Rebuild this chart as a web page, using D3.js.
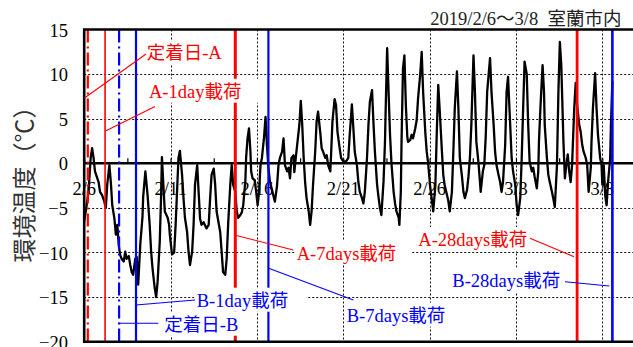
<!DOCTYPE html>
<html>
<head>
<meta charset="utf-8">
<script src="https://cdn.jsdelivr.net/npm/d3@7"></script>
<style>
  html, body { margin: 0; padding: 0; background: #fff; }
  svg { display: block; }
</style>
</head>
<body>
<svg id="chart" width="633" height="347"></svg>
<script>
// Hourly ambient temperature, Muroran, 2019/2/6 - 3/8
// hours: elapsed hours since 2019-02-06 00:00, temps: °C
const hours = [
  0, 2, 6, 9, 11, 13, 15, 20, 22, 25, 28, 30, 32, 35, 37, 39, 42, 44, 46, 48,
  50, 52, 55, 57, 59, 62, 64, 66, 68, 71, 73, 75, 78, 81, 82, 85, 88, 91, 93, 95,
  98, 100, 102, 105, 107, 108, 110, 112, 116, 118, 119, 122, 125, 127, 129, 131, 133, 136, 138, 140,
  143, 145, 147, 150, 152, 154, 157, 159, 161, 163, 166, 170, 173, 175, 177, 180, 182, 184, 189, 191,
  193, 196, 198, 200, 203, 205, 207, 210, 212, 214, 217, 219, 221, 224, 225, 227, 229, 231, 232, 234,
  237, 239, 241, 243, 245, 247, 250, 252, 254, 256, 258, 261, 265, 268, 270, 272, 275, 277, 279, 282,
  284, 286, 288, 291, 292, 294, 296, 299, 301, 303, 305, 307, 309, 312, 314, 316, 318, 321, 323, 325,
  328, 330, 332, 335, 337, 339, 342, 343, 345, 348, 350, 352, 355, 357, 360, 364, 367, 369, 372, 374,
  376, 379, 381, 383, 386, 388, 390, 393, 395, 397, 400, 402, 404, 407, 409, 411, 413, 416, 418, 419,
  421, 423, 425, 427, 430, 432, 434, 437, 438, 440, 441, 443, 445, 447, 449, 450, 453, 455, 457, 460,
  462, 464, 467, 469, 471, 474, 476, 478, 481, 483, 485, 488, 490, 492, 494, 497, 499, 501, 504, 506,
  508, 511, 513, 515, 518, 520, 522, 525, 527, 529, 532, 534, 536, 538, 541, 543, 545, 548, 550, 551,
  554, 556, 558, 560, 564, 566, 569, 571, 573, 575, 578, 580, 582, 585, 587, 589, 592, 594, 596, 599,
  601, 603, 606, 608, 610, 612, 615, 617, 619, 622, 624, 626, 629, 631, 632, 634, 637, 639, 640, 643,
  645, 647, 650, 652, 654, 657, 659, 661, 663, 666, 668, 670, 672, 674, 676, 678, 681, 683, 685, 688,
  690, 692, 694, 697, 699, 701, 704, 705, 707, 710, 712, 714, 717, 719, 720, 722, 724, 726, 728, 731,
  732, 734
];
const temps = [
  -6.5, -5.5, -3.2, 0.6, 1.7, 0.6, -0.9, -2.1, -3.2, -3.6, -4.3, -5.0, -2.4, -0.2, -2.1, -4.7, -6.2, -8.0, -6.9, -9.2,
  -10.3, -10.7, -11.0, -9.9, -10.7, -10.4, -11.4, -12.2, -12.5, -10.7, -10.5, -13.6, -9.0, -6.0, -3.7, -0.9, -3.5, -6.9, -9.9, -11.8,
  -14.0, -15.0, -13.3, -8.8, -3.2, 0.7, -2.4, -5.4, -6.1, -6.9, -8.0, -10.2, -10.0, -7.0, -3.2, 0.6, 1.4, -1.3, -3.9, -6.1,
  -7.7, -9.9, -11.4, -9.9, -6.9, -2.4, -0.2, -3.2, -6.2, -6.9, -6.6, -7.3, -6.9, -3.9, -1.3, -0.6, -2.4, -5.4, -7.7, -9.9,
  -12.2, -12.5, -10.7, -6.9, -2.4, -0.2, -2.4, -3.2, -5.4, -6.1, -5.8, -5.5, -4.7, -1.9, 0.6, 2.8, 3.9, 1.3, -0.9, -1.7,
  -1.9, -3.2, -4.7, -3.2, -0.2, 0.6, 3.0, 5.2, 2.0, -0.5, -2.0, -3.0, -4.3, -2.5, -0.2, 0.6, 1.3, 2.8, -0.2, -0.9,
  -0.5, -1.7, 0.6, 0.9, -1.0, 0.6, 2.1, 4.3, 7.0, 4.3, 0.6, -2.1, -3.9, -5.4, -6.9, -5.4, -2.4, 1.3, 4.7, 5.8,
  3.5, 1.7, 1.3, 0.6, 0.9, -0.2, -0.9, 0.8, 4.7, 7.2, 6.5, 3.5, 1.7, 0.6, 0.2, 0.2, 0.6, 3.2, 6.6, 4.0,
  1.3, -0.2, -2.1, -3.2, -3.9, -4.5, -3.2, 0.6, 4.3, 6.9, 8.2, 4.5, 1.3, -2.4, -3.8, -5.0, -5.8, -2.0, 2.4, 6.2,
  12.9, 8.0, 3.2, 0.0, -3.2, -4.5, -5.4, -6.1, -6.9, -3.2, 2.4, 10.6, 12.1, 6.5, 3.0, 2.4, 2.6, 3.2, 2.8, 3.9,
  4.8, 7.3, 10.0, 12.5, 8.0, 3.5, 1.3, 0.0, -2.8, -4.0, -5.4, -2.5, 3.5, 8.8, 6.0, 1.5, -1.3, -2.5, -3.5, -4.2,
  -5.4, -3.2, 1.3, 6.2, 10.3, 6.2, 0.6, -1.5, -3.2, -3.9, -3.0, -1.5, 0.6, 4.3, 12.1, 8.0, 2.4, 0.0, -2.1, -3.2,
  -0.9, -0.2, 3.0, 8.0, 11.8, 8.0, 4.3, 1.3, -0.2, -1.0, -2.1, -3.2, -2.1, 2.0, 8.0, 9.7, 4.3, 0.6, -0.9, -2.4,
  -4.7, -5.8, -3.9, 0.6, 6.2, 11.4, 10.0, 4.3, 0.2, -0.9, -0.5, -1.5, -2.8, -0.9, 2.5, 6.2, 11.0, 8.0, 4.3, 0.6,
  -1.3, -2.1, -3.2, -4.0, -4.9, -0.2, 8.0, 13.6, 11.0, 2.4, -1.7, -0.2, 1.0, -0.9, -2.1, -0.2, 6.2, 9.0, 6.5, 4.3,
  3.5, 2.1, 1.3, 0.6, -0.2, -3.2, -0.5, 2.4, 6.2, 10.1, 6.2, 3.2, 0.6, -0.2, -2.4, -0.2, -3.6, -4.7, -2.1, 0.6,
  4.3, 9.2
];

// Loading / setting events (hours since 2/6 00:00)
const eventNames = ["定着日-A", "A-1day載荷", "定着日-B", "B-1day載荷", "A-7days載荷", "B-7days載荷", "A-28days載荷", "B-28days載荷"];
const eventHours = [5, 29, 48.5, 72, 210, 256, 685, 734];
const eventSpecimen = ["A", "A", "B", "B", "A", "B", "A", "B"];

// Axis ticks
const yTicks = [15, 10, 5, 0, -5, -10, -15, -20];
const xTickDays = [0, 5, 10, 15, 20, 25, 30];
const titleText = "2019/2/6～3/8\u00a0\u00a0室蘭市内";
const yTitle = "環境温度（℃）";

// ---- styles / layout ----
const RED = "#ff0000", BLUE = "#0000ff";
const lineStyle = [
  { w: 2.2, dash: "13,4,2,4" },
  { w: 1.6, dash: null },
  { w: 2.2, dash: "13,4,2,4" },
  { w: 2.2, dash: null },
  { w: 3, dash: null },
  { w: 2.2, dash: null },
  { w: 2.8, dash: null },
  { w: 2.6, dash: null }
];
// label placement: text start / baseline, leader ends, box right padding
const noteLayout = [
  { tx: 146.7, ty: 59.3, l: [146, 54, 84.5, 98], padR: 10 },
  { tx: 149, ty: 97.7, l: [155, 106.5, 106, 130.7], padR: 20 },
  { tx: 164.3, ty: 330.7, l: [158.3, 323.3, 118.3, 323.3], padR: 8 },
  { tx: 196.7, ty: 306.7, l: [195, 300, 135.7, 305], padR: 18 },
  { tx: 296.7, ty: 260, l: [293.3, 250, 234.3, 235], padR: 15 },
  { tx: 346.7, ty: 321.7, l: [353.3, 300, 268.7, 268.3], padR: 10 },
  { tx: 418.3, ty: 246, l: [530, 238.3, 574, 256.7], padR: 4 },
  { tx: 452.3, ty: 286.7, l: [565, 281.7, 609.3, 286], padR: 4 }
];

const FONT = "'Liberation Serif', 'Times New Roman', 'Noto Sans CJK JP', serif";
const CJK = "'Noto Sans CJK JP', 'Noto Sans CJK SC', sans-serif";

const svg = d3.select("#chart");
const start = new Date(2019, 1, 6, 0, 0, 0);
const plotL = 84.2, plotT = 29.5, plotB = 341.7, plotR = 640, dayPx = 17.27;
const x = d3.scaleTime()
  .domain([start, d3.timeDay.offset(start, 33)])
  .range([plotL, plotL + 33 * dayPx]);
const y = d3.scaleLinear().domain([-20, 15]).range([plotB, plotT]);

const tHour = h => d3.timeMinute.offset(start, Math.round(h * 60));

// dotted grid
const grid = svg.append("g").attr("stroke", "#111").attr("stroke-width", 1).attr("stroke-dasharray", "2,2");
grid.selectAll("line.h").data(yTicks.filter(v => v !== 0 && v !== 15 && v !== -20)).join("line")
  .attr("class", "h")
  .attr("x1", plotL).attr("x2", plotR)
  .attr("y1", d => Math.round(y(d)) + 0.5).attr("y2", d => Math.round(y(d)) + 0.5);
grid.selectAll("line.v").data(xTickDays.filter(d => d > 0)).join("line")
  .attr("class", "v")
  .attr("x1", d => Math.round(x(d3.timeDay.offset(start, d))) + 0.5)
  .attr("x2", d => Math.round(x(d3.timeDay.offset(start, d))) + 0.5)
  .attr("y1", plotT).attr("y2", plotB);

// y axis labels
const yAxis = d3.axisLeft(y).tickValues(yTicks).tickSize(0).tickPadding(0).tickFormat(d3.format("d"));
const gy = svg.append("g").attr("transform", "translate(68,0)").call(yAxis);
gy.select(".domain").remove();
gy.selectAll("text").attr("font-family", FONT).attr("font-size", 18.5).attr("fill", "#000")
  .attr("dy", "0.36em").attr("x", 0);

// x tick labels under the zero line (drawn before data so the trace sits on top)
const fmt = d3.timeFormat("%-m/%-d");
svg.append("g").selectAll("text").data(xTickDays).join("text")
  .attr("x", d => x(d3.timeDay.offset(start, d)))
  .attr("y", y(0) + 31.5)
  .attr("text-anchor", "middle")
  .attr("font-family", FONT).attr("font-size", 18.5).attr("fill", "#000")
  .text(d => fmt(d3.timeDay.offset(start, d)));

// zero axis with upward ticks every 2.5 days
const xAxis = d3.axisTop(x)
  .tickValues(d3.range(0, 33, 2.5).map(d => d3.timeHour.offset(start, d * 24)))
  .tickSize(5).tickFormat("");
const gx = svg.append("g").attr("transform", `translate(0,${y(0)})`).call(xAxis);
gx.select(".domain").remove();
gx.selectAll(".tick line").attr("stroke", "#000").attr("stroke-width", 1.2);
svg.append("line").attr("x1", plotL).attr("x2", plotR).attr("y1", y(0)).attr("y2", y(0))
  .attr("stroke", "#000").attr("stroke-width", 2.4);

// temperature trace
const series = hours.map((h, i) => ({ t: tHour(h), v: temps[i] }));
svg.append("path").datum(series)
  .attr("fill", "none").attr("stroke", "#000").attr("stroke-width", 2.3)
  .attr("stroke-linejoin", "round")
  .attr("d", d3.line().x(d => x(d.t)).y(d => y(d.v)));

// event lines
svg.append("g").selectAll("line").data(eventHours).join("line")
  .attr("x1", d => x(tHour(d))).attr("x2", d => x(tHour(d)))
  .attr("y1", plotT).attr("y2", plotB)
  .attr("stroke", (d, i) => eventSpecimen[i] === "A" ? RED : BLUE)
  .attr("stroke-width", (d, i) => lineStyle[i].w)
  .attr("stroke-dasharray", (d, i) => lineStyle[i].dash);

// frame
svg.append("path")
  .attr("d", `M${plotR},${plotT}H${plotL}V${plotB}H${plotR}`)
  .attr("fill", "none").attr("stroke", "#000").attr("stroke-width", 2.6);

// annotations
const notes = svg.append("g");
eventNames.forEach((name, i) => {
  const L = noteLayout[i];
  const col = eventSpecimen[i] === "A" ? RED : BLUE;
  const g = notes.append("g");
  const box = g.append("rect").attr("fill", "#fff");
  const txt = g.append("text").attr("x", L.tx).attr("y", L.ty)
    .attr("font-family", FONT).attr("font-size", 18.5).attr("fill", col).text(name);
  const bb = txt.node().getBBox();
  box.attr("x", bb.x - 2).attr("y", L.ty - 19).attr("width", bb.width + 2 + L.padR).attr("height", 24);
  g.append("line").attr("x1", L.l[0]).attr("y1", L.l[1]).attr("x2", L.l[2]).attr("y2", L.l[3])
    .attr("stroke", col).attr("stroke-width", 1.1);
});

// titles
svg.append("text").attr("x", 621.5).attr("y", 25).attr("text-anchor", "end")
  .attr("font-family", FONT).attr("font-size", 18.5).attr("fill", "#222").text(titleText);
svg.append("text")
  .attr("transform", "translate(33,178.5) rotate(-90)")
  .attr("text-anchor", "middle")
  .attr("font-family", CJK).attr("font-size", 24).attr("fill", "#333").text(yTitle);
</script>
</body>
</html>
